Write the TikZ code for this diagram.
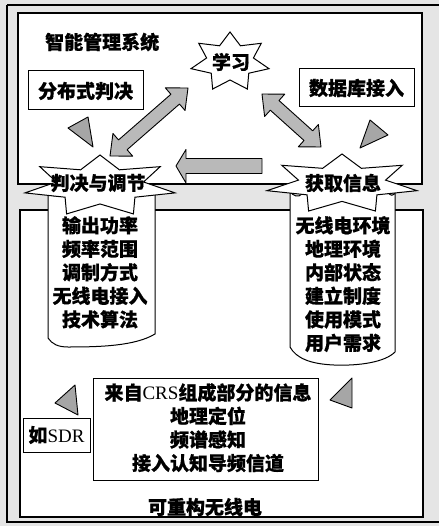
\documentclass[tikz,border=0pt]{standalone}
\usepackage{fontspec}
\setmainfont{Liberation Serif}
\newfontfamily\cjk{Noto Sans CJK SC}[FakeBold=0.6]
\usetikzlibrary{calc}

\tikzset{
  box/.style={draw=black, line width=1.2pt, fill=white},
  lbl/.style={font=\fontsize{19}{23.5}\selectfont\cjk\bfseries, inner sep=0pt, align=center},
  arrowsty/.style={draw=black, line width=0.9pt, fill=gray!55, line join=round},
  tri/.style={draw=black, line width=0.9pt, fill=gray!70, line join=round},
  starsty/.style={draw=black, line width=1pt, fill=white, line join=miter},
  scrollsty/.style={draw=black, line width=1pt, fill=white},
}

% 7-point star: cx, cy, rx, ry, inner ratio
\newcommand{\mystar}[5]{%
  \draw[starsty] plot[samples at={0,1,...,13}, variable=\kk]
  ({#1+#3*((mod(\kk,2)==0)?1:#5)*cos(90+\kk*360/14)},
   {#2-#4*((mod(\kk,2)==0)?1:#5)*sin(90+\kk*360/14)}) -- cycle;}

% double-headed block arrow between two named coordinates
\newcommand{\dblarrow}[2]{%
  \draw[arrowsty] (#1)
  -- ($ ($(#1)!17pt!(#2)$)!15pt!90:(#2) $)
  -- ($ ($(#1)!17pt!(#2)$)!6.5pt!90:(#2) $)
  -- ($ ($(#2)!17pt!(#1)$)!6.5pt!-90:(#1) $)
  -- ($ ($(#2)!17pt!(#1)$)!15pt!-90:(#1) $)
  -- (#2)
  -- ($ ($(#2)!17pt!(#1)$)!15pt!90:(#1) $)
  -- ($ ($(#2)!17pt!(#1)$)!6.5pt!90:(#1) $)
  -- ($ ($(#1)!17pt!(#2)$)!6.5pt!-90:(#2) $)
  -- ($ ($(#1)!17pt!(#2)$)!15pt!-90:(#2) $)
  -- cycle;}

\begin{document}
\begin{tikzpicture}[x=1pt, y=-1pt]
\useasboundingbox (0,0) rectangle (439,526);
% outer frame
\fill[gray!20] (0,0) rectangle (439,526);
\draw[line width=1.8pt] (7,5) -- (439,5);
\draw[line width=1.8pt] (7,5) -- (7,522) -- (439,522);

% upper box
\draw[box] (18,13) rectangle (422,184);
% lower box
\draw[box] (20,210) rectangle (423,517);

% scrolls
\draw[scrollsty] (48,192) .. controls (52,196) and (56,198) .. (60,194)
  .. controls (100,190) .. (148,193)
  .. controls (152,196) .. (155,193)
  -- (155,334) .. controls (135,346) and (100,347) .. (68,347)
  .. controls (58,347) and (52,344) .. (48,338) -- cycle;
\draw[scrollsty] (290,192) .. controls (294,196) and (298,198) .. (302,194)
  .. controls (340,190) .. (388,193)
  .. controls (392,196) .. (395,193)
  -- (395,352) .. controls (385,362) and (360,366) .. (334,365)
  .. controls (310,364) and (296,358) .. (290,347) -- cycle;

% stars
\mystar{230}{62}{40}{30}{0.6}
\mystar{100}{186}{77}{31}{0.58}
\mystar{342}{184}{77}{30}{0.58}

% labels in upper box
\node[lbl, anchor=west] (title) at (45,42) {智能管理系统};
\draw[box, line width=1pt] (28,71) rectangle (143,110);
\node[lbl] (fbs) at (85.5,91) {分布式判决};
\draw[box, line width=1pt] (299,69) rectangle (414,107);
\node[lbl] (sjk) at (356.5,88) {数据库接入};
\node[lbl] (xx) at (231,62) {学习};
\node[lbl] (pj) at (98,183) {判决与调节};
\node[lbl] (hq) at (343,183) {获取信息};

% scroll texts
\node[lbl, anchor=north] (ltxt) at (100,216) {输出功率\\频率范围\\调制方式\\无线电接入\\技术算法};
\node[lbl, anchor=north] (rtxt) at (343,216) {无线电环境\\地理环境\\内部状态\\建立制度\\使用模式\\用户需求};

% arrows
\coordinate (a1s) at (110,156);
\coordinate (a1e) at (188,88);
\coordinate (a2s) at (262,94);
\coordinate (a2e) at (321,147);
\dblarrow{a1s}{a1e}
\dblarrow{a2s}{a2e}
\coordinate (h1) at (262,166);
\coordinate (h2) at (176,166);
\draw[arrowsty] (h2) -- ($(h2)+(10,-16.5)$) -- ($(h2)+(10,-7.5)$) -- ($(h1)+(0,-7.5)$)
  -- ($(h1)+(0,7.5)$) -- ($(h2)+(10,7.5)$) -- ($(h2)+(10,17)$) -- cycle;

% small triangles
\draw[tri] (68,128) -- (88,117) -- (93,147) -- cycle;
\draw[tri] (370,120) -- (388,135) -- (360,148) -- cycle;
\draw[tri] (55,403) -- (75,385) -- (78,415) -- cycle;
\draw[tri] (330,400) -- (352,378) -- (352,408) -- cycle;

% lower content
\draw[box, line width=1pt] (93,378) rectangle (318,480);
\node[lbl, anchor=north] (crs) at (208,383) {来自{\rmfamily\mdseries CRS}组成部分的信息\\地理定位\\频谱感知\\接入认知导频信道};
\draw[box, line width=1pt] (23,418) rectangle (90,452);
\node[lbl] (sdr) at (56.5,435) {如{\rmfamily\mdseries SDR}};
\node[lbl] (kcg) at (205,507) {可重构无线电};
\end{tikzpicture}
\end{document}
